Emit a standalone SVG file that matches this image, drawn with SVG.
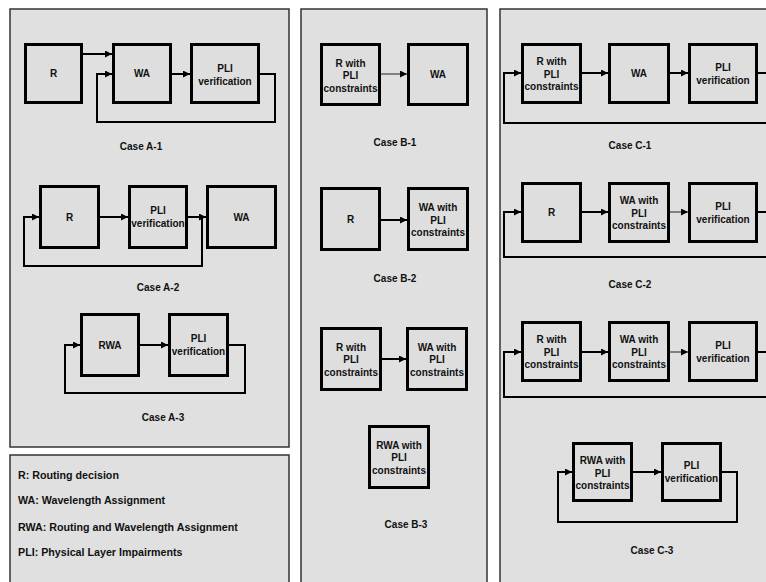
<svg xmlns="http://www.w3.org/2000/svg" width="766" height="582" viewBox="0 0 766 582">
<style>
.panel{fill:#e0e0e0;stroke:#333;stroke-width:1.5}
.box{fill:#dedede;stroke:#000;stroke-width:3}
.t{font-family:"Liberation Sans",Arial,sans-serif;font-weight:bold;font-size:10px;fill:#111;text-anchor:middle}
.lg{font-family:"Liberation Sans",Arial,sans-serif;font-weight:bold;font-size:10.7px;fill:#111}
.c{fill:none;stroke:#000;stroke-width:2;marker-end:url(#ah)}
.thin{fill:none;stroke:#222;stroke-width:1;marker-end:url(#ah)}
</style>
<defs>
<marker id="ah" markerUnits="userSpaceOnUse" markerWidth="8" markerHeight="7" refX="7" refY="3.5" orient="auto">
<path d="M0,0 L7,3.5 L0,7 z" fill="#000"/>
</marker>
</defs>
<rect width="766" height="582" fill="#fff"/>
<g id="panels">
<rect class="panel" x="10" y="9" width="279" height="438"/>
<rect class="panel" x="10" y="455" width="279" height="140"/>
<rect class="panel" x="301" y="9" width="186" height="590"/>
<rect class="panel" x="500" y="9" width="290" height="590"/>
</g>
<g id="connectors">
<path class="c" d="M83,54 H112"/>
<path class="c" d="M172,74 H190"/>
<path class="c" d="M260,74 H275 V122 H97 V74 H112"/>
<path class="c" d="M100,217 H128"/>
<path class="c" d="M188,217 H206"/>
<path class="c" d="M202,217 V266 H24 V217 H39"/>
<path class="c" d="M140,345 H168"/>
<path class="c" d="M229,345 H245 V393 H65 V345 H80"/>
<path class="thin" d="M381,74 H407"/>
<path class="c" d="M381,220 H407"/>
<path class="c" d="M382,359 H406"/>
<path class="c" d="M582,73 H608"/>
<path class="c" d="M670,73 H688"/>
<path class="c" d="M758,73 H775 V123 H504 V73 H521"/>
<path class="c" d="M582,212 H608"/>
<path class="thin" d="M670,212 H688"/>
<path class="c" d="M758,212 H775 V257 H504 V212 H521"/>
<path class="c" d="M582,352 H608"/>
<path class="thin" d="M670,352 H688"/>
<path class="c" d="M758,352 H775 V397 H504 V352 H521"/>
<path class="c" d="M633,472 H661"/>
<path class="c" d="M722,472 H737 V522 H558 V472 H572"/>
</g>
<g id="a1-r"><rect class="box" x="25.5" y="44.5" width="56" height="58"/><text class="t" x="53.5" y="77">R</text></g>
<g id="a1-wa"><rect class="box" x="113.5" y="44.5" width="57" height="58"/><text class="t" x="142" y="77">WA</text></g>
<g id="a1-pli"><rect class="box" x="191.5" y="44.5" width="67" height="58"/><text class="t" x="225" y="71.5">PLI</text><text class="t" x="225" y="84.5">verification</text></g>
<text class="t" x="141" y="150">Case A-1</text>
<g id="a2-r"><rect class="box" x="40.5" y="186.5" width="58" height="61"/><text class="t" x="69.5" y="220.5">R</text></g>
<g id="a2-pli"><rect class="box" x="129.5" y="186.5" width="57" height="61"/><text class="t" x="158" y="214">PLI</text><text class="t" x="158" y="227">verification</text></g>
<g id="a2-wa"><rect class="box" x="207.5" y="186.5" width="68" height="61"/><text class="t" x="241.5" y="220.5">WA</text></g>
<text class="t" x="158" y="291">Case A-2</text>
<g id="a3-rwa"><rect class="box" x="81.5" y="314.5" width="57" height="61"/><text class="t" x="110" y="348.5">RWA</text></g>
<g id="a3-pli"><rect class="box" x="169.5" y="314.5" width="58" height="61"/><text class="t" x="198.5" y="342">PLI</text><text class="t" x="198.5" y="355">verification</text></g>
<text class="t" x="163" y="421">Case A-3</text>
<g id="legend">
<text class="lg" x="18" y="478.5">R: Routing decision</text>
<text class="lg" x="18" y="503.5">WA: Wavelength Assignment</text>
<text class="lg" x="18" y="530.5">RWA: Routing and Wavelength Assignment</text>
<text class="lg" x="18" y="555.5">PLI: Physical Layer Impairments</text>
</g>
<g id="b1-r"><rect class="box" x="321.5" y="44.5" width="58" height="60"/><text class="t" x="350.5" y="66.5">R with</text><text class="t" x="350.5" y="79">PLI</text><text class="t" x="350.5" y="91.5">constraints</text></g>
<g id="b1-wa"><rect class="box" x="408.5" y="44.5" width="59" height="60"/><text class="t" x="438" y="78">WA</text></g>
<text class="t" x="395" y="145.5">Case B-1</text>
<g id="b2-r"><rect class="box" x="321.5" y="188.5" width="58" height="61"/><text class="t" x="350.5" y="222.5">R</text></g>
<g id="b2-wa"><rect class="box" x="408.5" y="188.5" width="59" height="61"/><text class="t" x="438" y="211">WA with</text><text class="t" x="438" y="223.5">PLI</text><text class="t" x="438" y="236">constraints</text></g>
<text class="t" x="395" y="281.5">Case B-2</text>
<g id="b3-r"><rect class="box" x="321.5" y="328.5" width="59" height="61"/><text class="t" x="351" y="350.5">R with</text><text class="t" x="351" y="363">PLI</text><text class="t" x="351" y="375.5">constraints</text></g>
<g id="b3-wa"><rect class="box" x="407.5" y="328.5" width="59" height="61"/><text class="t" x="437" y="350.5">WA with</text><text class="t" x="437" y="363">PLI</text><text class="t" x="437" y="375.5">constraints</text></g>
<g id="b3-rwa"><rect class="box" x="369.5" y="426.5" width="59" height="61"/><text class="t" x="399" y="448.5">RWA with</text><text class="t" x="399" y="461">PLI</text><text class="t" x="399" y="473.5">constraints</text></g>
<text class="t" x="406" y="527.5">Case B-3</text>
<g id="c1-r"><rect class="box" x="522.5" y="44.5" width="58" height="58"/><text class="t" x="551.5" y="65">R with</text><text class="t" x="551.5" y="77.5">PLI</text><text class="t" x="551.5" y="90">constraints</text></g>
<g id="c1-wa"><rect class="box" x="609.5" y="44.5" width="59" height="58"/><text class="t" x="639" y="77">WA</text></g>
<g id="c1-pli"><rect class="box" x="689.5" y="44.5" width="67" height="58"/><text class="t" x="723" y="71">PLI</text><text class="t" x="723" y="84">verification</text></g>
<text class="t" x="630" y="148.5">Case C-1</text>
<g id="c2-r"><rect class="box" x="522.5" y="183.5" width="58" height="58"/><text class="t" x="551.5" y="216">R</text></g>
<g id="c2-wa"><rect class="box" x="609.5" y="183.5" width="59" height="58"/><text class="t" x="639" y="204">WA with</text><text class="t" x="639" y="216.5">PLI</text><text class="t" x="639" y="229">constraints</text></g>
<g id="c2-pli"><rect class="box" x="689.5" y="183.5" width="67" height="58"/><text class="t" x="723" y="210">PLI</text><text class="t" x="723" y="223">verification</text></g>
<text class="t" x="630" y="287.5">Case C-2</text>
<g id="c3a-r"><rect class="box" x="522.5" y="322.5" width="58" height="58"/><text class="t" x="551.5" y="343">R with</text><text class="t" x="551.5" y="355.5">PLI</text><text class="t" x="551.5" y="368">constraints</text></g>
<g id="c3a-wa"><rect class="box" x="609.5" y="322.5" width="59" height="58"/><text class="t" x="639" y="343">WA with</text><text class="t" x="639" y="355.5">PLI</text><text class="t" x="639" y="368">constraints</text></g>
<g id="c3a-pli"><rect class="box" x="689.5" y="322.5" width="67" height="58"/><text class="t" x="723" y="349">PLI</text><text class="t" x="723" y="362">verification</text></g>
<g id="c3-rwa"><rect class="box" x="573.5" y="443.5" width="58" height="57"/><text class="t" x="602.5" y="464">RWA with</text><text class="t" x="602.5" y="476.5">PLI</text><text class="t" x="602.5" y="489">constraints</text></g>
<g id="c3-pli"><rect class="box" x="662.5" y="443.5" width="58" height="57"/><text class="t" x="691.5" y="469">PLI</text><text class="t" x="691.5" y="482">verification</text></g>
<text class="t" x="652" y="553.5">Case C-3</text>
</svg>
